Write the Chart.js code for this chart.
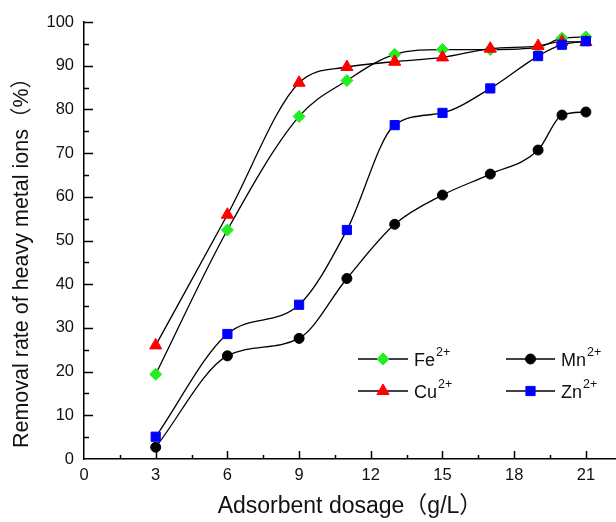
<!DOCTYPE html>
<html>
<head>
<meta charset="utf-8">
<script src="https://cdn.jsdelivr.net/npm/chart.js@4.4.1/dist/chart.umd.min.js"></script>
<style>
  html, body { margin: 0; padding: 0; background: #fff; }
  #wrap { width: 616px; height: 522px; position: relative; }
</style>
</head>
<body>
<div id="wrap"><canvas id="c" width="616" height="522"></canvas></div>
<script>
// ---- data ----
const dosage = [3, 6, 9, 11, 13, 15, 17, 19, 20, 21];
const feValues = [19.4, 52.4, 78.4, 86.6, 92.6, 93.7, 93.7, 94.2, 96.3, 96.6];
const cuValues = [26.0, 55.9, 86.1, 89.7, 90.9, 91.9, 93.9, 94.5, 95.5, 95.4];
const mnValues = [2.7, 23.6, 27.6, 41.3, 53.7, 60.4, 65.2, 70.7, 78.7, 79.4];
const znValues = [5.1, 28.6, 35.3, 52.4, 76.4, 79.2, 84.8, 92.2, 94.8, 95.6];
const seriesNames = ['Fe', 'Cu', 'Mn', 'Zn'];
const seriesCharge = '2+';
const xTickValues = [0, 3, 6, 9, 12, 15, 18, 21];
const yTickValues = [0, 10, 20, 30, 40, 50, 60, 70, 80, 90, 100];
const xTitle = 'Adsorbent dosage（g/L）';
const yTitle = 'Removal rate of heavy metal ions（%）';

const FONT = '"Liberation Sans", Arial, "Noto Sans CJK SC", sans-serif';

function pts(vals) { return dosage.map((x, i) => ({ x: x, y: vals[i] })); }

function ds(label, vals, color, style, radius, order) {
  return {
    label: label,
    data: pts(vals),
    borderColor: '#000',
    borderWidth: 1.3,
    backgroundColor: color,
    pointBackgroundColor: color,
    pointBorderColor: color,
    pointBorderWidth: 1,
    pointStyle: style,
    pointRadius: radius,
    pointHoverRadius: radius,
    cubicInterpolationMode: 'monotone',
    fill: false,
    clip: false,
    order: order
  };
}

const datasets = [
  ds(seriesNames[0], feValues, '#22ee22', 'rectRot', 6, 3),
  ds(seriesNames[1], cuValues, '#ff0000', 'triangle', 7, 2),
  ds(seriesNames[2], mnValues, '#000000', 'circle', 5, 4),
  ds(seriesNames[3], znValues, '#0000ff', 'rect', 6.5, 1)
];

// inward ticks (major + minor) drawn through the scales
const tickPlugin = {
  id: 'inwardTicks',
  afterDatasetsDraw(chart) {
    const ctx = chart.ctx;
    const xs = chart.scales.x, ys = chart.scales.y;
    const a = chart.chartArea;
    ctx.save();
    ctx.strokeStyle = '#000';
    ctx.lineWidth = 1.5;
    ctx.beginPath();
    for (let v = 1.5; v <= xs.max; v += 1.5) {
      const px = Math.round(xs.getPixelForValue(v)) + 0.5;
      const major = Math.abs(v / 3 - Math.round(v / 3)) < 1e-6;
      const len = major ? 8 : 4;
      ctx.moveTo(px, a.bottom);
      ctx.lineTo(px, a.bottom - len);
    }
    for (let v = 5; v <= ys.max; v += 5) {
      const py = Math.round(ys.getPixelForValue(v)) + 0.5;
      const major = v % 10 === 0;
      const len = major ? 9 : 5;
      ctx.moveTo(a.left, py);
      ctx.lineTo(a.left + len, py);
    }
    ctx.stroke();
    ctx.restore();
  }
};

// y title and legend drawn as canvas text
const annotPlugin = {
  id: 'annot',
  afterDraw(chart) {
    const ctx = chart.ctx;
    ctx.save();
    ctx.fillStyle = '#111';
    ctx.font = '21.5px ' + FONT;
    ctx.textAlign = 'center';
    ctx.textBaseline = 'alphabetic';
    ctx.translate(28, 257.5);
    ctx.rotate(-Math.PI / 2);
    ctx.fillText(yTitle, 0, 0);
    ctx.restore();

    // legend 2x2
    const slots = [
      { i: 0, x1: 358, x2: 408, y: 359 },
      { i: 2, x1: 506, x2: 555, y: 359 },
      { i: 1, x1: 358, x2: 408, y: 391 },
      { i: 3, x1: 506, x2: 555, y: 391 }
    ];
    slots.forEach(s => {
      const d = chart.data.datasets[s.i];
      ctx.save();
      ctx.strokeStyle = '#000';
      ctx.lineWidth = 1.5;
      ctx.beginPath();
      ctx.moveTo(s.x1, s.y);
      ctx.lineTo(s.x2, s.y);
      ctx.stroke();
      ctx.fillStyle = d.pointBackgroundColor;
      ctx.strokeStyle = d.pointBorderColor;
      ctx.lineWidth = 1;
      Chart.helpers.drawPoint(ctx, {
        pointStyle: d.pointStyle, radius: d.pointRadius, rotation: 0, borderWidth: 1
      }, (s.x1 + s.x2) / 2, s.y);
      ctx.fillStyle = '#111';
      ctx.textAlign = 'left';
      ctx.textBaseline = 'alphabetic';
      ctx.font = '18px ' + FONT;
      const tx = s.x2 + 6;
      ctx.fillText(d.label, tx, s.y + 6.5);
      const w = ctx.measureText(d.label).width;
      ctx.font = '12.5px ' + FONT;
      ctx.fillText(seriesCharge, tx + w + 1, s.y - 3.5);
      ctx.restore();
    });
  }
};

new Chart(document.getElementById('c'), {
  type: 'line',
  data: { datasets: datasets },
  options: {
    responsive: false,
    animation: false,
    devicePixelRatio: 1,
    layout: { autoPadding: false, padding: { top: 22, right: 0, left: 0, bottom: 0 } },
    plugins: {
      legend: { display: false },
      tooltip: { enabled: false }
    },
    scales: {
      x: {
        type: 'linear',
        min: 0,
        max: 22.26,
        afterBuildTicks(scale) { scale.ticks = xTickValues.map(v => ({ value: v })); },
        afterFit(scale) { scale.height = 63; scale.paddingRight = 0; scale.paddingLeft = 0; },
        grid: { display: false, drawTicks: false },
        border: { display: true, color: '#000', width: 1.5 },
        ticks: { color: '#111', padding: 7, font: { family: FONT, size: 16.5 } },
        title: {
          display: true, text: xTitle, color: '#111',
          font: { family: FONT, size: 23 }, padding: { top: 0, bottom: 2 }
        }
      },
      y: {
        type: 'linear',
        min: 0,
        max: 100,
        afterBuildTicks(scale) { scale.ticks = yTickValues.map(v => ({ value: v })); },
        afterFit(scale) { scale.width = 84; },
        grid: { display: false, drawTicks: false },
        border: { display: true, color: '#000', width: 1.5 },
        ticks: { color: '#111', padding: 10, font: { family: FONT, size: 16.5 } }
      }
    }
  },
  plugins: [tickPlugin, annotPlugin]
});
</script>
</body>
</html>
